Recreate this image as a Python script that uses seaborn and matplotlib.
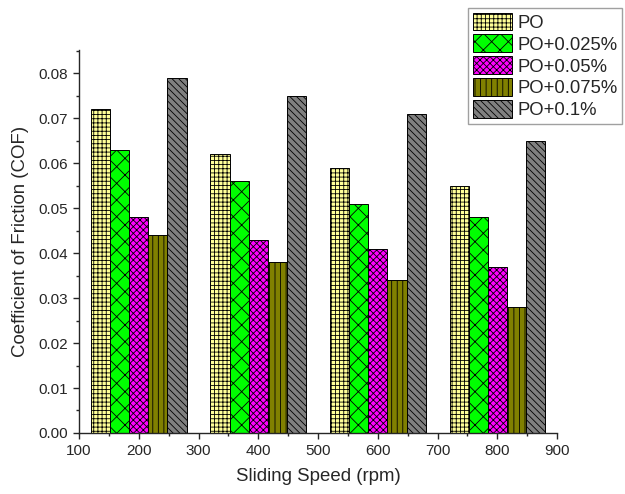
import matplotlib
matplotlib.use("Agg")
import matplotlib.pyplot as plt
from matplotlib.patches import Patch
from matplotlib.ticker import MultipleLocator
import seaborn as sns
import pandas as pd

speeds = [200, 400, 600, 800]
series = ["PO", "PO+0.025%", "PO+0.05%", "PO+0.075%", "PO+0.1%"]
po = [0.072, 0.062, 0.059, 0.055]
po_025 = [0.063, 0.056, 0.051, 0.048]
po_05 = [0.048, 0.043, 0.041, 0.037]
po_075 = [0.044, 0.038, 0.034, 0.028]
po_1 = [0.079, 0.075, 0.071, 0.065]
values = [po, po_025, po_05, po_075, po_1]

colors = ["#FFFF99", "#00FF00", "#FF00FF", "#808000", "#808080"]
hatches = ["++++", "xx", "xxxxx", "|||", "\\\\\\\\\\"]

rows = []
for name, vals in zip(series, values):
    for s, v in zip(speeds, vals):
        rows.append({"speed": s, "cof": v, "series": name})
df = pd.DataFrame(rows)

sns.set_style("ticks")
plt.rcParams["font.family"] = ["Liberation Sans", "DejaVu Sans"]
plt.rcParams["hatch.linewidth"] = 0.6

fig = plt.figure(figsize=(6.25, 4.94), dpi=100)
ax = fig.add_axes([0.1264, 0.1235, 0.765, 0.775])

sns.barplot(data=df, x="speed", y="cof", hue="series", hue_order=series,
            palette=colors, native_scale=True, width=0.8, saturation=1,
            edgecolor="black", linewidth=0.7, legend=False, ax=ax)

for cont, h in zip(ax.containers, hatches):
    for bar in cont:
        bar.set_hatch(h)
        bar.set_edgecolor("black")

ax.set_xlim(100, 900)
ax.set_ylim(0, 0.0851)
ax.set_xticks(range(100, 901, 100))
ax.set_yticks([i / 100 for i in range(0, 9)])
ax.set_yticklabels([f"{i/100:.2f}" for i in range(0, 9)])
ax.xaxis.set_minor_locator(MultipleLocator(50))
ax.yaxis.set_minor_locator(MultipleLocator(0.005))
ax.tick_params(which="major", direction="out", length=4.5, width=1, labelsize=11, pad=3.5)
ax.tick_params(which="minor", direction="out", length=2.5, width=1)
for sp in ["top", "right"]:
    ax.spines[sp].set_visible(False)
ax.spines["left"].set_linewidth(1)
ax.spines["bottom"].set_linewidth(1)

ax.set_xlabel("Sliding Speed (rpm)", fontsize=13.4, labelpad=7)
ax.set_ylabel("Coefficient of Friction (COF)", fontsize=13.4, labelpad=7)

handles = [Patch(facecolor=c, edgecolor="black", hatch=h, linewidth=0.7, label=n)
           for c, h, n in zip(colors, hatches, series)]
leg = fig.legend(handles=handles, loc="upper right", bbox_to_anchor=(0.995, 0.984),
                 fontsize=13.3, frameon=True, fancybox=False, edgecolor="#888888",
                 handlelength=2.15, handleheight=1.1, labelspacing=0.15,
                 handletextpad=0.25, borderpad=0.25, borderaxespad=0.0)
leg.get_frame().set_linewidth(1)

fig.savefig("out.png", dpi=100)
